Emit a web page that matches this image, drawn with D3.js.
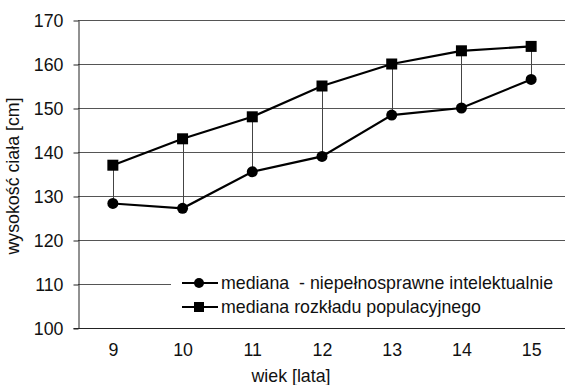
<!DOCTYPE html>
<html>
<head>
<meta charset="utf-8">
<script src="https://cdn.jsdelivr.net/npm/d3@7"></script>
<style>
  html, body { margin: 0; padding: 0; background: #fff; }
  svg { display: block; font-family: "Liberation Sans", Arial, sans-serif; }
</style>
</head>
<body>
<svg id="chart" width="565" height="385"></svg>
<script>
// Wiek (lata)
const ages = ["9", "10", "11", "12", "13", "14", "15"];
// Mediana wysokości ciała – dzieci niepełnosprawne intelektualnie [cm]
const medianDisabled = [128.3, 127.2, 135.5, 139.0, 148.4, 150.0, 156.5];
// Mediana rozkładu populacyjnego [cm]
const medianPopulation = [137, 143, 148, 155, 160, 163, 164];
// Podziałka osi Y
const yTicks = [100, 110, 120, 130, 140, 150, 160, 170];
const seriesNames = ["mediana  - niepełnosprawne intelektualnie", "mediana rozkładu populacyjnego"];

const FS = 17.8;
const svg = d3.select("#chart");
const margin = { left: 78, top: 20, right: -1, bottom: 57 };
const W = 565, H = 385;
const x0 = margin.left, x1 = W - margin.right;
const y0 = H - margin.bottom, y1 = margin.top;

const x = d3.scaleBand().domain(ages).range([x0, x1]).padding(0);
const y = d3.scaleLinear().domain([100, 170]).range([y0, y1]);
const cx = a => x(a) + x.bandwidth() / 2;

// siatka pozioma
svg.append("g")
  .selectAll("line").data(yTicks.filter(t => t > 100)).join("line")
  .attr("x1", x0).attr("x2", W)
  .attr("y1", d => Math.round(y(d)) + 0.5).attr("y2", d => Math.round(y(d)) + 0.5)
  .attr("stroke", "#555").attr("stroke-width", 1);

// oś Y
const yAxis = svg.append("g")
  .attr("transform", `translate(${x0 + 0.5},0.5)`)
  .call(d3.axisLeft(y).tickValues(yTicks).tickSize(5).tickPadding(10).tickSizeOuter(0));
yAxis.select(".domain").attr("stroke", "#222");
yAxis.selectAll(".tick line").attr("stroke", "#222");
yAxis.selectAll("text").attr("font-size", FS).attr("fill", "#111")
  .attr("font-family", "Liberation Sans, Arial, sans-serif");

// oś X
const xAxis = svg.append("g")
  .attr("transform", `translate(0.5,${Math.round(y0) + 0.5})`)
  .call(d3.axisBottom(x).tickSize(0).tickPadding(15));
xAxis.select(".domain").attr("stroke", "#222").attr("d", `M${x0 - 5},0H${W}`);
xAxis.selectAll("text").attr("font-size", FS).attr("fill", "#111")
  .attr("font-family", "Liberation Sans, Arial, sans-serif");

// linie łączące obie mediany
svg.append("g")
  .selectAll("line").data(ages).join("line")
  .attr("x1", a => Math.round(cx(a)) + 0.5).attr("x2", a => Math.round(cx(a)) + 0.5)
  .attr("y1", (a, i) => y(medianPopulation[i])).attr("y2", (a, i) => y(medianDisabled[i]))
  .attr("stroke", "#444").attr("stroke-width", 1);

const line = d3.line().x((d, i) => cx(ages[i])).y(d => y(d));

svg.append("path").datum(medianPopulation).attr("d", line)
  .attr("fill", "none").attr("stroke", "#000").attr("stroke-width", 2.2);
svg.append("path").datum(medianDisabled).attr("d", line)
  .attr("fill", "none").attr("stroke", "#000").attr("stroke-width", 2.2);

svg.append("g").selectAll("rect").data(medianPopulation).join("rect")
  .attr("x", (d, i) => cx(ages[i]) - 5.5).attr("y", d => y(d) - 5.5)
  .attr("width", 11).attr("height", 11).attr("fill", "#000");
svg.append("g").selectAll("circle").data(medianDisabled).join("circle")
  .attr("cx", (d, i) => cx(ages[i])).attr("cy", d => y(d)).attr("r", 5.5).attr("fill", "#000");

// legenda
const leg = svg.append("g");
leg.append("rect").attr("x", 171).attr("y", 268).attr("width", W - 171).attr("height", 52).attr("fill", "#fff");
const rows = [283, 307];
rows.forEach((ry, i) => {
  leg.append("line").attr("x1", 182).attr("x2", 218).attr("y1", ry).attr("y2", ry)
    .attr("stroke", "#000").attr("stroke-width", 2.2);
  if (i === 0) leg.append("circle").attr("cx", 199).attr("cy", ry).attr("r", 5).attr("fill", "#000");
  else leg.append("rect").attr("x", 194).attr("y", ry - 5).attr("width", 10).attr("height", 10).attr("fill", "#000");
  leg.append("text").attr("x", 221).attr("y", ry).attr("dy", "0.35em")
    .attr("font-size", FS).attr("fill", "#111").style("white-space", "pre")
    .text(seriesNames[i]);
});

// tytuły osi
svg.append("text").attr("x", 291).attr("y", 376).attr("dy", "0.35em")
  .attr("text-anchor", "middle").attr("font-size", FS).attr("fill", "#111").text("wiek [lata]");
svg.append("text").attr("transform", "translate(13,176) rotate(-90)").attr("dy", "0.35em")
  .attr("text-anchor", "middle").attr("font-size", FS).attr("fill", "#111").text("wysokość ciała [cm]");
</script>
</body>
</html>
